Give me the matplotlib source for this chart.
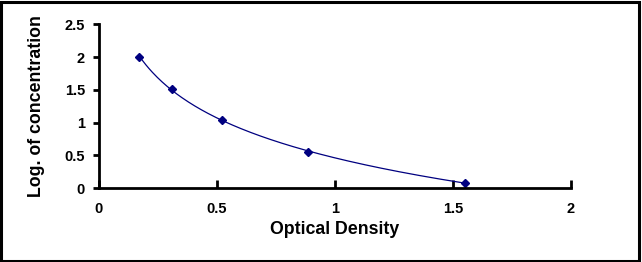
import numpy as np
import matplotlib.pyplot as plt
from matplotlib.patches import Rectangle

plt.rcParams['font.family'] = ['Liberation Sans', 'DejaVu Sans']
plt.rcParams['font.weight'] = 'bold'

# standard curve readings
od_values = [0.171, 0.311, 0.520, 0.885, 1.552]
log_conc = [2.00, 1.51, 1.04, 0.555, 0.076]
x_ticks = [0, 0.5, 1, 1.5, 2]
y_ticks = [0, 0.5, 1, 1.5, 2, 2.5]

navy = '#000080'

fig = plt.figure(figsize=(6.42, 2.62), dpi=100)
ax = fig.add_axes([0.1542, 0.2824, 0.889 - 0.1542, 0.907 - 0.2824])

# logarithmic trend line through the points
k, b = np.polyfit(np.log(od_values), log_conc, 1)
xs = np.linspace(min(od_values), max(od_values), 200)
ax.plot(xs, k * np.log(xs) + b, color=navy, lw=0.9)
ax.plot(od_values, log_conc, linestyle='none', marker='D', markersize=4.5,
        color=navy)

ax.set_xlim(0, 2)
ax.set_ylim(0, 2.5)
ax.set_xticks(x_ticks)
ax.set_yticks(y_ticks)
ax.set_xticklabels([f'{t:g}' for t in x_ticks])
ax.set_yticklabels([f'{t:g}' for t in y_ticks])

for s in ['top', 'right']:
    ax.spines[s].set_visible(False)
for s in ['left', 'bottom']:
    ax.spines[s].set_linewidth(2)
ax.tick_params(axis='x', direction='in', length=6, width=2, pad=10, labelsize=10.5)
ax.tick_params(axis='y', direction='out', length=4, width=2, pad=6, labelsize=10.5)

ax.set_xlabel('Optical Density', fontsize=12.8, fontweight='bold', labelpad=4)
ax.set_ylabel('Log. of concentration', fontsize=12.8, fontweight='bold', labelpad=14)

fig.patches.append(Rectangle((0.002, 0.004), 0.994, 0.99, transform=fig.transFigure,
                             fill=False, edgecolor='black', linewidth=2.2))

fig.savefig('out.png', dpi=100)
